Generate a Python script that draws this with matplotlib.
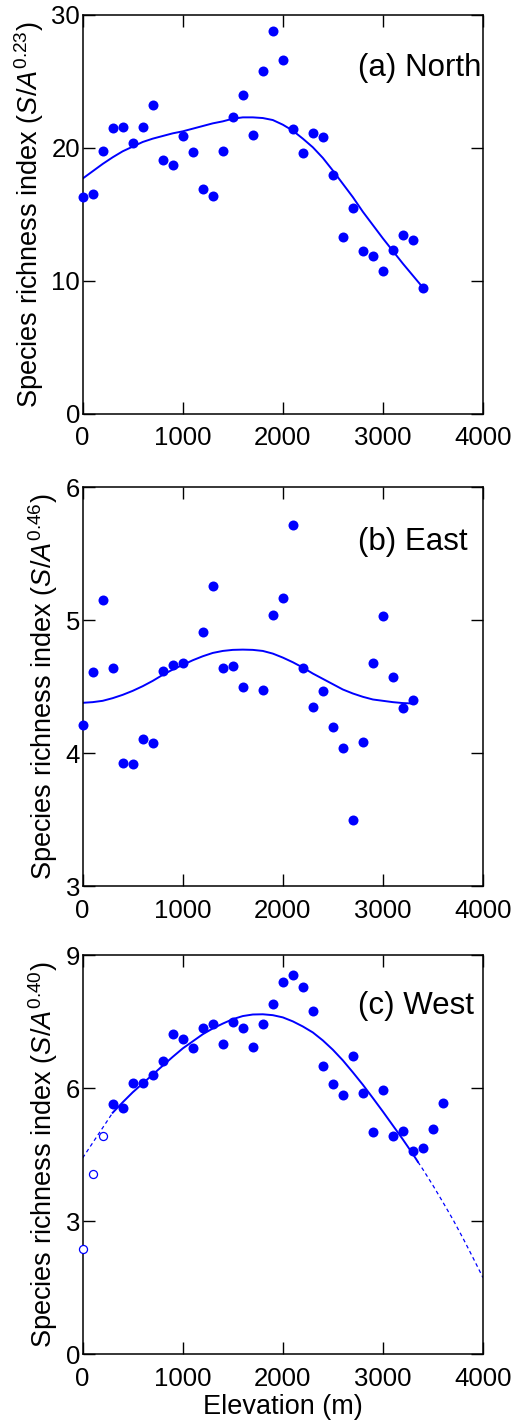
import matplotlib
matplotlib.use("Agg")
import matplotlib.pyplot as plt
import numpy as np

plt.rcParams['font.family'] = ['Liberation Sans', 'DejaVu Sans']
plt.rcParams['mathtext.fontset'] = 'custom'
plt.rcParams['mathtext.rm'] = 'Liberation Sans'
plt.rcParams['mathtext.it'] = 'Liberation Sans:italic'

BLUE = '#0000ff'

# (a) North
north_elev = [0, 100, 200, 300, 400, 500, 600, 700, 800, 900, 1000, 1100, 1200,
              1300, 1400, 1500, 1600, 1700, 1800, 1900, 2000, 2100, 2200, 2300,
              2400, 2500, 2600, 2700, 2800, 2900, 3000, 3100, 3200, 3300, 3400]
north_rich = [16.3, 16.55, 19.75, 21.5, 21.6, 20.4, 21.55, 23.25, 19.1, 18.7,
              20.9, 19.7, 16.9, 16.4, 19.75, 22.3, 23.95, 21.0, 25.75, 28.8,
              26.6, 21.4, 19.6, 21.1, 20.85, 18.0, 13.3, 15.5, 12.25, 11.9,
              10.75, 12.3, 13.45, 13.1, 9.5]
north_fit_x = [0, 100, 200, 300, 400, 500, 600, 700, 800, 900, 1000, 1100, 1200,
               1300, 1400, 1500, 1600, 1700, 1800, 1900, 2000, 2100, 2200, 2300,
               2400, 2500, 2600, 2700, 2800, 2900, 3000, 3100, 3200, 3300, 3400]
north_fit_y = [17.7, 18.25, 18.8, 19.3, 19.75, 20.1, 20.45, 20.7, 20.9, 21.1,
               21.25, 21.45, 21.65, 21.85, 22.0, 22.2, 22.3, 22.3, 22.25, 22.1,
               21.75, 21.3, 20.7, 20.05, 19.25, 18.3, 17.3, 16.3, 15.2, 14.2,
               13.2, 12.25, 11.3, 10.4, 9.5]

# (b) East
east_elev = [0, 100, 200, 300, 400, 500, 600, 700, 800, 900, 1000, 1200, 1300,
             1400, 1500, 1600, 1800, 1900, 2000, 2100, 2200, 2300, 2400, 2500,
             2600, 2700, 2800, 2900, 3000, 3100, 3200, 3300]
east_rich = [4.21, 4.61, 5.15, 4.64, 3.93, 3.92, 4.105, 4.08, 4.62, 4.665, 4.68,
             4.915, 5.26, 4.64, 4.66, 4.50, 4.475, 5.04, 5.17, 5.715, 4.64, 4.35,
             4.47, 4.20, 4.04, 3.50, 4.085, 4.68, 5.035, 4.575, 4.34, 4.40]
east_fit_x = [0, 100, 200, 300, 400, 500, 600, 700, 800, 900, 1000, 1100, 1200,
              1300, 1400, 1500, 1600, 1700, 1800, 1900, 2000, 2100, 2200, 2300,
              2400, 2500, 2600, 2700, 2800, 2900, 3000, 3100, 3200, 3300]
east_fit_y = [4.38, 4.385, 4.395, 4.415, 4.44, 4.47, 4.505, 4.545, 4.59, 4.63,
              4.665, 4.70, 4.73, 4.755, 4.77, 4.778, 4.78, 4.778, 4.77, 4.75,
              4.72, 4.685, 4.645, 4.60, 4.56, 4.52, 4.48, 4.45, 4.425, 4.405,
              4.395, 4.385, 4.378, 4.375]

# (c) West
west_elev = [300, 400, 500, 600, 700, 800, 900, 1000, 1100, 1200, 1300, 1400,
             1500, 1600, 1700, 1800, 1900, 2000, 2100, 2200, 2300, 2400, 2500,
             2600, 2700, 2800, 2900, 3000, 3100, 3200, 3300, 3400, 3500, 3600]
west_rich = [5.64, 5.565, 6.11, 6.13, 6.29, 6.62, 7.215, 7.12, 6.91, 7.36, 7.44,
             7.0, 7.485, 7.35, 6.93, 7.45, 7.91, 8.4, 8.56, 8.295, 7.74, 6.50,
             6.105, 5.85, 6.73, 5.89, 5.01, 5.96, 4.92, 5.03, 4.575, 4.66, 5.085,
             5.67]
west_excl_elev = [0, 100, 200]
west_excl_rich = [2.37, 4.06, 4.93]
west_fit_x = [0, 100, 200, 300, 400, 500, 600, 700, 800, 900, 1000, 1100, 1200,
              1300, 1400, 1500, 1600, 1700, 1800, 1900, 2000, 2100, 2200, 2300,
              2400, 2500, 2600, 2700, 2800, 2900, 3000, 3100, 3200, 3300, 3350,
              3400, 3500, 3600, 3700, 3800, 3900, 4000]
west_fit_y = [4.43, 4.77, 5.11, 5.45, 5.685, 5.91, 6.11, 6.31, 6.51, 6.71, 6.9,
              7.06, 7.22, 7.35, 7.46, 7.56, 7.63, 7.665, 7.67, 7.65, 7.6, 7.51,
              7.395, 7.26, 7.08, 6.87, 6.63, 6.36, 6.08, 5.78, 5.475, 5.16,
              4.845, 4.515, 4.34, 4.17, 3.81, 3.43, 3.04, 2.62, 2.18, 1.73]
west_solid = (300, 3350)

panels = [
    dict(x=north_elev, y=north_rich, fx=north_fit_x, fy=north_fit_y,
         ylim=(0, 30), yticks=[0, 10, 20, 30], exp='0.23', tag='(a) North', ty=0.867),
    dict(x=east_elev, y=east_rich, fx=east_fit_x, fy=east_fit_y,
         ylim=(3, 6), yticks=[3, 4, 5, 6], exp='0.46', tag='(b) East', ty=0.862),
    dict(x=west_elev, y=west_rich, fx=west_fit_x, fy=west_fit_y,
         ylim=(0, 9), yticks=[0, 3, 6, 9], exp='0.40', tag='(c) West', ty=0.873),
]

fig = plt.figure(figsize=(5.19, 14.25), dpi=100)
bottoms = [0.7095, 0.378, 0.0496]
for i, p in enumerate(panels):
    ax = fig.add_axes([0.1593, bottoms[i], 0.7713, 0.2800])
    fx = np.array(p['fx'])
    fy = np.array(p['fy'])
    if i == 2:
        # fit is dashed outside the range of the filled points
        solid = (fx >= west_solid[0]) & (fx <= west_solid[1])
        lo = fx <= west_solid[0]
        hi = fx >= west_solid[1]
        ax.plot(fx[lo], fy[lo], color=BLUE, lw=0.9, ls=(0, (3, 2.5)))
        ax.plot(fx[hi], fy[hi], color=BLUE, lw=0.9, ls=(0, (3, 2.5)))
        ax.plot(fx[solid], fy[solid], color=BLUE, lw=1.4)
        ax.plot(west_excl_elev, west_excl_rich, 'o', mfc='white', mec=BLUE,
                ms=5.8, mew=0.9, clip_on=False, zorder=4)
    else:
        ax.plot(fx, fy, color=BLUE, lw=1.4)
    ax.plot(p['x'], p['y'], 'o', color=BLUE, ms=7.2, mew=0, clip_on=False, zorder=5)

    ax.set_xlim(0, 4000)
    ax.set_ylim(*p['ylim'])
    ax.set_xticks([0, 1000, 2000, 3000, 4000])
    ax.set_yticks(p['yticks'])
    ax.tick_params(direction='in', length=8.6, width=1.0, top=True, right=True,
                   labelsize=18.5)
    ax.tick_params(axis='x', pad=9)
    ax.tick_params(axis='y', pad=2)
    for s in ax.spines.values():
        s.set_linewidth(1.1)
    ax.set_ylabel(r'Species richness index ($\mathit{S}$/$\mathit{A}^{\mathrm{%s}}$)' % p['exp'],
                  fontsize=19.5, labelpad=4)
    ax.text(2751, p['ylim'][0] + p['ty'] * (p['ylim'][1] - p['ylim'][0]), p['tag'],
            fontsize=22.5, ha='left', va='center')
    if i == 2:
        ax.set_xlabel('Elevation (m)', fontsize=19.5, labelpad=2)

fig.savefig('out.png', dpi=100)
